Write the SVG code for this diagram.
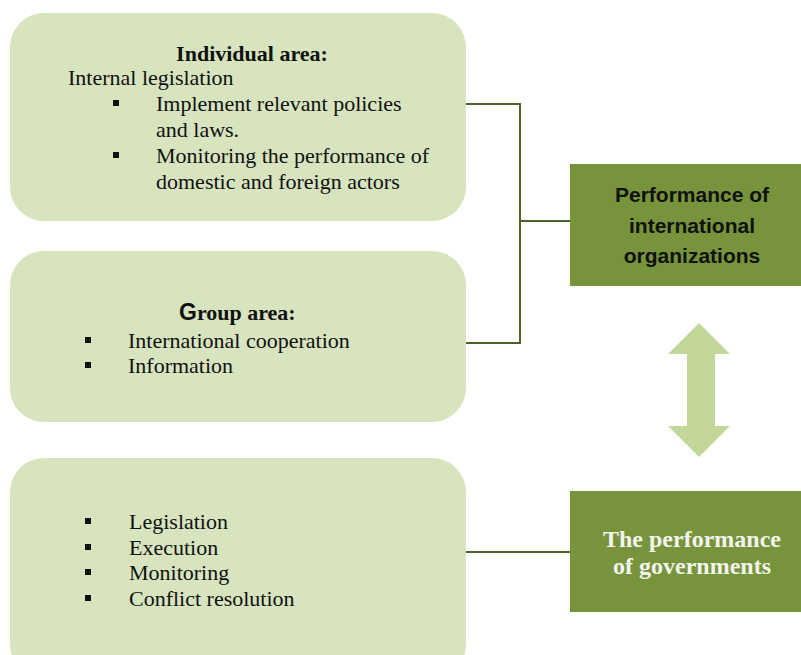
<svg xmlns="http://www.w3.org/2000/svg" width="801" height="655" viewBox="0 0 801 655">
<style>
.box{fill:#d7e4bd}
.dark{fill:#77933c}
.t{font-family:"Liberation Serif","Times New Roman",serif;font-size:22px;fill:#111}
.b{font-weight:bold}
.s{font-family:"Liberation Sans",Arial,sans-serif;font-weight:bold;font-size:21px;fill:#111}
.w{font-family:"Liberation Serif","Times New Roman",serif;font-weight:bold;font-size:24px;fill:#f4f4ee}
.blt{fill:#111}
.con{fill:none;stroke:#4f6228;stroke-width:2}
</style>
<rect width="801" height="655" fill="#fff"/>
<g id="connectors">
<path class="con" d="M466 104 H520 V343 H466"/>
<path class="con" d="M520 221 H570"/>
<path class="con" d="M466 552 H570"/>
</g>
<g id="individual">
<rect class="box" x="10" y="13" width="456" height="208" rx="34"/>
<text class="t b" x="252" y="61" text-anchor="middle">Individual area:</text>
<text class="t" x="68" y="85">Internal legislation</text>
<rect class="blt" x="113" y="100" width="6" height="6"/>
<text class="t" x="156" y="111">Implement relevant policies</text>
<text class="t" x="156" y="137">and laws.</text>
<rect class="blt" x="113" y="152" width="6" height="6"/>
<text class="t" x="156" y="163">Monitoring the performance of</text>
<text class="t" x="156" y="189">domestic and foreign actors</text>
</g>
<g id="group">
<rect class="box" x="10" y="251" width="456" height="171" rx="34"/>
<text class="t b" x="179" y="320"><tspan style="font-family:'Liberation Sans',Arial,sans-serif;font-size:23px">G</tspan>roup area:</text>
<rect class="blt" x="85" y="337" width="6" height="6"/>
<text class="t" x="128" y="348">International cooperation</text>
<rect class="blt" x="85" y="362" width="6" height="6"/>
<text class="t" x="128" y="373">Information</text>
</g>
<g id="functions">
<rect class="box" x="10" y="458" width="456" height="220" rx="34"/>
<rect class="blt" x="85" y="518" width="6" height="6"/>
<text class="t" x="129" y="529">Legislation</text>
<rect class="blt" x="85" y="544" width="6" height="6"/>
<text class="t" x="129" y="555">Execution</text>
<rect class="blt" x="85" y="569" width="6" height="6"/>
<text class="t" x="129" y="580">Monitoring</text>
<rect class="blt" x="85" y="595" width="6" height="6"/>
<text class="t" x="129" y="606">Conflict resolution</text>
</g>
<g id="intl-org">
<rect class="dark" x="570" y="164" width="231" height="122"/>
<text class="s" x="692" y="202" text-anchor="middle">Performance of</text>
<text class="s" x="692" y="233" text-anchor="middle">international</text>
<text class="s" x="692" y="263" text-anchor="middle">organizations</text>
</g>
<g id="arrow">
<polygon fill="#c4d79b" points="699,323 730,354 715,354 715,426 730,426 699,457 668,426 687,426 687,354 668,354"/>
</g>
<g id="governments">
<rect class="dark" x="570" y="491" width="231" height="121"/>
<text class="w" x="692" y="547" text-anchor="middle">The performance</text>
<text class="w" x="692" y="574" text-anchor="middle">of governments</text>
</g>
</svg>
